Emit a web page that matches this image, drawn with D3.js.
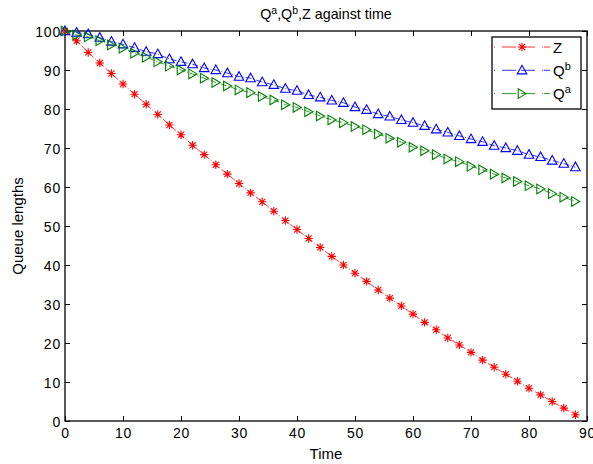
<!DOCTYPE html>
<html>
<head>
<meta charset="utf-8">
<script src="https://cdn.jsdelivr.net/npm/d3@7"></script>
<style>
  body { margin: 0; background: #fff; }
  svg text { font-family: "Liberation Sans", Arial, sans-serif; fill: #000; }
</style>
</head>
<body>
<div id="chart"></div>
<script>
// time samples (x) and the three series
var time = [0, 2, 4, 6, 8, 10, 12, 14, 16, 18, 20, 22, 24, 26, 28, 30, 32, 34, 36, 38, 40, 42, 44,
    46, 48, 50, 52, 54, 56, 58, 60, 62, 64, 66, 68, 70, 72, 74, 76, 78, 80, 82, 84, 86, 88];

var zValues = [100, 97.5, 94.5, 91.8, 89.1, 86.4, 83.8, 81.2, 78.6, 75.9, 73.4, 70.7, 68.3, 65.7, 63.3,
    60.9, 58.5, 56.2, 53.8, 51.4, 49.1, 46.8, 44.5, 42.2, 40.0, 37.9, 35.8, 33.6, 31.5, 29.5,
    27.4, 25.3, 23.4, 21.3, 19.5, 17.6, 15.6, 13.8, 12.0, 10.2, 8.4, 6.7, 5.0, 3.3, 1.6];

var qbValues = [100, 99.6, 99.2, 98.3, 97.3, 96.6, 95.7, 94.7, 94.1, 92.8, 92.1, 91.5, 90.5, 90.0, 89.2,
    88.3, 87.9, 86.9, 86.2, 85.2, 84.7, 83.6, 83.0, 82.2, 81.6, 80.5, 79.8, 78.7, 78.1, 77.2,
    76.5, 75.7, 74.8, 74.0, 73.1, 72.3, 71.6, 70.6, 70.0, 69.3, 68.3, 67.7, 66.8, 66.0, 65.1];

var qaValues = [100, 99.0, 98.5, 97.5, 96.4, 95.6, 94.3, 93.3, 92.1, 91.0, 90.0, 89.0, 87.9, 86.8, 85.9,
    84.9, 84.2, 83.2, 82.3, 81.1, 80.4, 79.3, 78.2, 77.2, 76.5, 75.5, 74.7, 73.6, 72.5, 71.5,
    70.2, 69.3, 68.3, 67.2, 66.5, 65.3, 64.4, 63.3, 62.3, 61.4, 60.3, 59.5, 58.3, 57.4, 56.3];

var xTicks = [0, 10, 20, 30, 40, 50, 60, 70, 80, 90];
var yTicks = [0, 10, 20, 30, 40, 50, 60, 70, 80, 90, 100];

// draw order matches the legend: Z, Qb, Qa
var series = [
    { key: "Z",  sup: null, values: zValues,  color: "#ff0000", marker: "star" },
    { key: "Q",  sup: "b",  values: qbValues, color: "#0000ff", marker: "triUp" },
    { key: "Q",  sup: "a",  values: qaValues, color: "#008000", marker: "triRight" }
];

var width = 593, height = 464;
var margin = { top: 31, right: 6, bottom: 43, left: 65 };
var innerW = width - margin.left - margin.right,
    innerH = height - margin.top - margin.bottom;

var svg = d3.select("#chart").append("svg")
    .attr("width", width)
    .attr("height", height);

var g = svg.append("g")
    .attr("transform", "translate(" + margin.left + "," + margin.top + ")");

var x = d3.scaleLinear().domain([0, 90]).range([0, innerW]);
var y = d3.scaleLinear().domain([0, 100]).range([innerH, 0]);

// marker shapes, centred at 0,0
function markerPath(type) {
    var p = d3.path();
    if (type === "star") {
        var r = 4.2, d = r * 0.72;
        p.moveTo(-r, 0); p.lineTo(r, 0);
        p.moveTo(0, -r); p.lineTo(0, r);
        p.moveTo(-d, -d); p.lineTo(d, d);
        p.moveTo(-d, d); p.lineTo(d, -d);
    } else if (type === "triUp") {
        p.moveTo(0, -5); p.lineTo(4.8, 3.6); p.lineTo(-4.8, 3.6); p.closePath();
    } else {
        p.moveTo(4.4, 0); p.lineTo(-3.8, -4.8); p.lineTo(-3.8, 4.8); p.closePath();
    }
    return p.toString();
}

// axes (MATLAB style: ticks inward on all four sides)
var xAxisB = d3.axisBottom(x).tickValues(xTicks).tickSizeInner(-5).tickSizeOuter(0).tickPadding(7);
var xAxisT = d3.axisTop(x).tickValues(xTicks).tickSizeInner(-5).tickSizeOuter(0).tickFormat("");
var yAxisL = d3.axisLeft(y).tickValues(yTicks).tickSizeInner(-5).tickSizeOuter(0).tickPadding(4);
var yAxisR = d3.axisRight(y).tickValues(yTicks).tickSizeInner(-5).tickSizeOuter(0).tickFormat("");

function styleAxis(sel) {
    sel.selectAll("path").remove();
    sel.selectAll("line").attr("stroke", "#000").attr("stroke-width", 1);
    sel.selectAll("text")
        .style("font-size", "14px")
        .style("letter-spacing", "0.8px");
}

g.append("g").attr("transform", "translate(0," + innerH + ")").call(xAxisB).call(styleAxis);
g.append("g").call(xAxisT).call(styleAxis);
g.append("g").call(yAxisL).call(styleAxis)
    .selectAll("text").attr("dy", "0.36em");
g.append("g").attr("transform", "translate(" + innerW + ",0)").call(yAxisR).call(styleAxis);

// plot box
g.append("rect")
    .attr("width", innerW)
    .attr("height", innerH)
    .attr("fill", "none")
    .attr("stroke", "#000")
    .attr("stroke-width", 1.3);

// lines + markers
var line = d3.line()
    .x(function(d, i) { return x(time[i]); })
    .y(function(d) { return y(d); });

series.forEach(function(s) {
    g.append("path")
        .datum(s.values)
        .attr("d", line)
        .attr("fill", "none")
        .attr("stroke", s.color)
        .attr("stroke-width", 0.8)
        .attr("stroke-dasharray", "6,2,1,2");

    g.append("g").selectAll("path")
        .data(s.values)
        .enter().append("path")
        .attr("transform", function(d, i) { return "translate(" + x(time[i]) + "," + y(d) + ")"; })
        .attr("d", markerPath(s.marker))
        .attr("fill", "none")
        .attr("stroke", s.color)
        .attr("stroke-width", 1.1);
});

// title with superscripts
var title = svg.append("text")
    .attr("x", margin.left + innerW / 2)
    .attr("y", 19)
    .attr("text-anchor", "middle")
    .style("font-size", "14.3px");
title.append("tspan").text("Q");
title.append("tspan").attr("dy", "-5").style("font-size", "10.5px").text("a");
title.append("tspan").attr("dy", "5").text(",Q");
title.append("tspan").attr("dy", "-5").style("font-size", "10.5px").text("b");
title.append("tspan").attr("dy", "5").text(",Z against time");

// axis labels
svg.append("text")
    .attr("x", margin.left + innerW / 2)
    .attr("y", 459)
    .attr("text-anchor", "middle")
    .style("font-size", "15px")
    .text("Time");

svg.append("text")
    .attr("transform", "translate(23," + (margin.top + innerH / 2) + ") rotate(-90)")
    .attr("text-anchor", "middle")
    .style("font-size", "15px")
    .text("Queue lengths");

// legend
var legend = svg.append("g").attr("transform", "translate(492,37)");
legend.append("rect")
    .attr("width", 89)
    .attr("height", 72)
    .attr("fill", "#fff")
    .attr("stroke", "#000")
    .attr("stroke-width", 1.3);

series.forEach(function(s, i) {
    var row = legend.append("g").attr("transform", "translate(0," + (10 + i * 23.3) + ")");
    row.append("line")
        .attr("x1", 2).attr("x2", 58)
        .attr("stroke", s.color)
        .attr("stroke-width", 0.8)
        .attr("stroke-dasharray", "1,7,14,5,14,7,1");
    row.append("path")
        .attr("transform", "translate(30,0)")
        .attr("d", markerPath(s.marker))
        .attr("fill", "none")
        .attr("stroke", s.color)
        .attr("stroke-width", 1.1);
    var t = row.append("text")
        .attr("x", 61)
        .attr("y", 5.5)
        .style("font-size", "15px")
        .text(s.key);
    if (s.sup) {
        t.append("tspan").attr("dy", "-6").style("font-size", "11px").text(s.sup);
    }
});
</script>
</body>
</html>
